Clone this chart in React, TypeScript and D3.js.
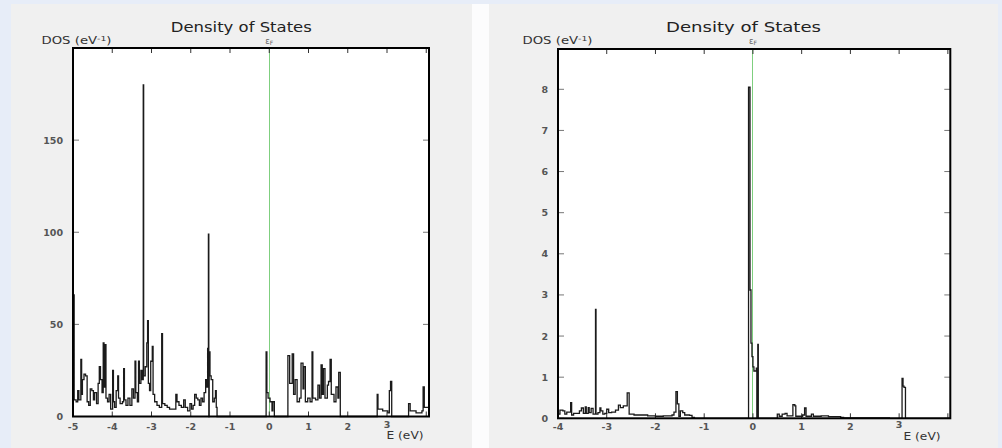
import React from "react";
import * as d3 from "d3";

// ---------- data ----------
const leftEnergy = [
  -5.0, -4.97, -4.92, -4.88, -4.85, -4.8, -4.78, -4.76, -4.72, -4.68, -4.64, -4.6, -4.56, -4.52, -4.48, -4.45,
  -4.4, -4.36, -4.33, -4.3, -4.26, -4.23, -4.21, -4.18, -4.16, -4.12, -4.08, -4.04, -3.99, -3.97, -3.94, -3.9,
  -3.86, -3.84, -3.8, -3.74, -3.71, -3.69, -3.65, -3.6, -3.55, -3.5, -3.46, -3.42, -3.4, -3.36, -3.33, -3.31,
  -3.27, -3.24, -3.21, -3.2, -3.16, -3.12, -3.1, -3.08, -3.05, -3.02, -2.98, -2.96, -2.92, -2.86, -2.8, -2.74,
  -2.72, -2.66, -2.6, -2.54, -2.46, -2.38, -2.35, -2.3, -2.24, -2.18, -2.14, -2.08, -2.02, -1.98, -1.94, -1.9,
  -1.86, -1.82, -1.78, -1.74, -1.7, -1.66, -1.62, -1.59, -1.57, -1.55, -1.54, -1.53, -1.51, -1.48, -1.44, -1.4,
  -1.37, -1.35, -1.33, -0.08, -0.06, -0.03, 0.02, 0.07, 0.09, 0.13, 0.475, 0.52, 0.585, 0.62, 0.66, 0.71,
  0.77, 0.81, 0.86, 0.88, 0.92, 0.98, 1.04, 1.09, 1.11, 1.18, 1.24, 1.28, 1.32, 1.35, 1.38, 1.42,
  1.48, 1.51, 1.55, 1.58, 1.65, 1.7, 1.75, 1.77, 1.81, 2.75, 2.77, 2.89, 3.02, 3.06, 3.09, 3.12,
  3.55, 3.59, 3.74, 3.89, 3.92, 3.95, 4.07,
];
const leftDos = [
  66, 9, 8, 14, 9, 31, 12, 20, 23, 22, 8, 6, 15, 14, 9, 13,
  7, 18, 27, 20, 13, 40, 16, 39, 10, 8, 12, 4, 25, 8, 5, 14,
  22, 10, 7, 8, 26, 9, 6, 10, 6, 15, 10, 30, 13, 8, 30, 18,
  25, 20, 180, 22, 27, 40, 52, 18, 14, 30, 38, 12, 8, 6, 5, 45,
  7, 6, 5, 4, 4, 12, 8, 6, 5, 9, 5, 3, 7, 4, 6, 12,
  10, 9, 6, 10, 8, 13, 20, 16, 37, 99, 0, 35, 22, 20, 8, 10,
  14, 5, 0, 35, 13, 10, 8, 3, 8, 0, 33, 18, 34, 12, 20, 8,
  10, 29, 15, 27, 8, 10, 8, 35, 10, 9, 17, 10, 28, 12, 26, 10,
  17, 19, 31, 12, 8, 16, 10, 24, 0, 12, 4, 3, 2, 14, 19, 0,
  7, 3, 2, 3, 16, 5, 5,
];

const rightEnergy = [
  -4.0, -3.96, -3.9, -3.86, -3.82, -3.74, -3.72, -3.68, -3.6, -3.56, -3.52, -3.48, -3.44, -3.42, -3.38, -3.36,
  -3.32, -3.28, -3.23, -3.22, -3.18, -3.14, -3.12, -3.08, -3.04, -3.0, -2.96, -2.9, -2.82, -2.76, -2.72, -2.66,
  -2.58, -2.54, -2.44, -2.3, -2.16, -2.0, -1.84, -1.66, -1.62, -1.58, -1.55, -1.52, -1.49, -1.44, -1.4, -1.3,
  -1.25, -1.2, -0.09, -0.06, -0.04, -0.02, 0.0, 0.02, 0.07, 0.08, 0.1, 0.11, 0.5, 0.54, 0.6, 0.66,
  0.7, 0.82, 0.86, 0.88, 1.02, 1.06, 1.09, 1.2, 1.24, 1.4, 1.55, 1.8, 1.86, 2.8, 3.06, 3.08,
  3.1, 3.13, 4.05,
];
const rightDos = [
  0.1, 0.2, 0.18, 0.1, 0.15, 0.38, 0.08, 0.12, 0.12, 0.18, 0.25, 0.12, 0.28, 0.12, 0.26, 0.14,
  0.24, 0.1, 2.65, 0.1, 0.14, 0.25, 0.18, 0.1, 0.12, 0.22, 0.14, 0.15, 0.2, 0.32, 0.26, 0.3,
  0.62, 0.1, 0.08, 0.08, 0.06, 0.05, 0.06, 0.08, 0.15, 0.65, 0.35, 0.05, 0.18, 0.14, 0.08, 0.07,
  0.02, 0, 8.05, 3.12, 1.83, 1.5, 1.25, 1.15, 1.22, 0, 1.8, 0, 0.1, 0.05, 0.1, 0.12,
  0.06, 0.33, 0.3, 0.05, 0.08, 0.25, 0.05, 0.1, 0.05, 0.06, 0.04, 0.02, 0.01, 0, 0.97, 0.78,
  0.75, 0, 0,
];

const leftYTicks = [0, 50, 100, 150];
const leftXTicks = [-5, -4, -3, -2, -1, 0, 1, 2, 3];
const rightYTicks = [0, 1, 2, 3, 4, 5, 6, 7, 8];
const rightXTicks = [-4, -3, -2, -1, 0, 1, 2, 3];

const TITLE = "Density of States";
const FONT = "DejaVu Sans, Verdana, sans-serif";

type PanelProps = {
  bg: [number, number, number, number];
  box: [number, number, number, number]; // x0,y0,x1,y1
  xDomain: [number, number];
  yDomain: [number, number];
  energy: number[];
  dos: number[];
  xTicks: number[];
  yTicks: number[];
  titleX: number;
  titleLen: number;
  dosLabelX: number;
  eLabelX: number;
  eLabelY: number;
};

function Panel(p: PanelProps) {
  const [x0, y0, x1, y1] = p.box;
  const x = d3.scaleLinear().domain(p.xDomain).range([x0, x1]);
  const y = d3.scaleLinear().domain(p.yDomain).range([y1, y0]);
  const pts = p.energy.map((e, i) => [e, p.dos[i]] as [number, number]);
  const line = d3
    .line<[number, number]>()
    .x((d) => x(d[0]))
    .y((d) => y(d[1]))
    .curve(d3.curveStepAfter);
  const tickFont = { fontFamily: FONT, fontSize: 9.5, fontWeight: 700, fill: "#555" } as const;
  const allX = d3.range(Math.ceil(p.xDomain[0]), Math.floor(p.xDomain[1]) + 1);
  const fx = Math.floor(x(0)) + 0.5;
  return (
    <g>
      <rect x={p.bg[0]} y={p.bg[1]} width={p.bg[2]} height={p.bg[3]} fill="#f0f0f0" />
      <rect x={x0} y={y0} width={x1 - x0} height={y1 - y0} fill="#ffffff" />
      {/* Fermi level */}
      <line x1={fx} x2={fx} y1={y0} y2={y1} stroke="#7fcf7f" strokeWidth={1} />
      {/* ticks */}
      {allX.map((t) => (
        <g key={"xt" + t}>
          <line x1={x(t)} x2={x(t)} y1={y0} y2={y0 + 5} stroke="#333" strokeWidth={1} />
          <line x1={x(t)} x2={x(t)} y1={y1} y2={y1 - 5} stroke="#333" strokeWidth={1} />
        </g>
      ))}
      {p.yTicks.map((t) => (
        <g key={"yt" + t}>
          <line x1={x0} x2={x0 + 6} y1={y(t)} y2={y(t)} stroke="#777" strokeWidth={1} />
          <line x1={x1} x2={x1 - 6} y1={y(t)} y2={y(t)} stroke="#777" strokeWidth={1} />
          <text x={x0 - 10} y={y(t) + 3.5} textAnchor="end" {...tickFont}>
            {t}
          </text>
        </g>
      ))}
      {p.xTicks.map((t) => (
        <text key={"xl" + t} x={x(t)} y={t === 3 ? 428 : 430} textAnchor="middle" {...tickFont}>
          {t}
        </text>
      ))}
      {/* data */}
      <path d={line(pts) || ""} fill="none" stroke="#1a1a1a" strokeWidth={1.3} />
      {/* frame */}
      <rect x={x0} y={y0} width={x1 - x0} height={y1 - y0} fill="none" stroke="#000" strokeWidth={2} />
      {/* labels */}
      <text
        x={p.titleX - p.titleLen / 2}
        y={32}
        fontFamily={FONT}
        fontSize={14}
        fill="#222"
        textLength={p.titleLen}
        lengthAdjust="spacingAndGlyphs"
      >
        {TITLE}
      </text>
      <text x={p.dosLabelX} y={44} fontFamily={FONT} fontSize={10} fill="#333" textLength={70} lengthAdjust="spacingAndGlyphs">
        DOS (eV
        <tspan fontSize={7} dy={-3.5}>
          -1
        </tspan>
        <tspan dy={3.5}>)</tspan>
      </text>
      <text x={x(0)} y={44} textAnchor="middle" fontFamily={FONT} fontSize={8.5} fill="#666">
        ε
        <tspan fontSize={6} dy={1}>
          F
        </tspan>
      </text>
      <text
        x={p.eLabelX}
        y={p.eLabelY}
        fontFamily={FONT}
        fontSize={11}
        fill="#333"
        textLength={37}
        lengthAdjust="spacingAndGlyphs"
      >
        E (eV)
      </text>
    </g>
  );
}

export default function App() {
  return (
    <svg width={1002} height={448} style={{ position: "absolute", left: 0, top: 0, display: "block" }}>
      <rect x={0} y={0} width={1002} height={448} fill="#e7edf8" />
      <rect x={472} y={4} width={17} height={444} fill="#fcfcfd" />
      <Panel
        bg={[11, 4, 461, 444]}
        box={[73, 48, 429, 416.5]}
        xDomain={[-5, 4.07]}
        yDomain={[0, 200]}
        energy={leftEnergy}
        dos={leftDos}
        xTicks={leftXTicks}
        yTicks={leftYTicks}
        titleX={241.3}
        titleLen={141}
        dosLabelX={41.5}
        eLabelX={386.5}
        eLabelY={439}
      />
      <Panel
        bg={[489, 4, 509, 444]}
        box={[558, 49, 950.3, 418.3]}
        xDomain={[-4, 4.05]}
        yDomain={[0, 8.98]}
        energy={rightEnergy}
        dos={rightDos}
        xTicks={rightXTicks}
        yTicks={rightYTicks}
        titleX={743.5}
        titleLen={155}
        dosLabelX={522.5}
        eLabelX={903.5}
        eLabelY={440}
      />
    </svg>
  );
}
